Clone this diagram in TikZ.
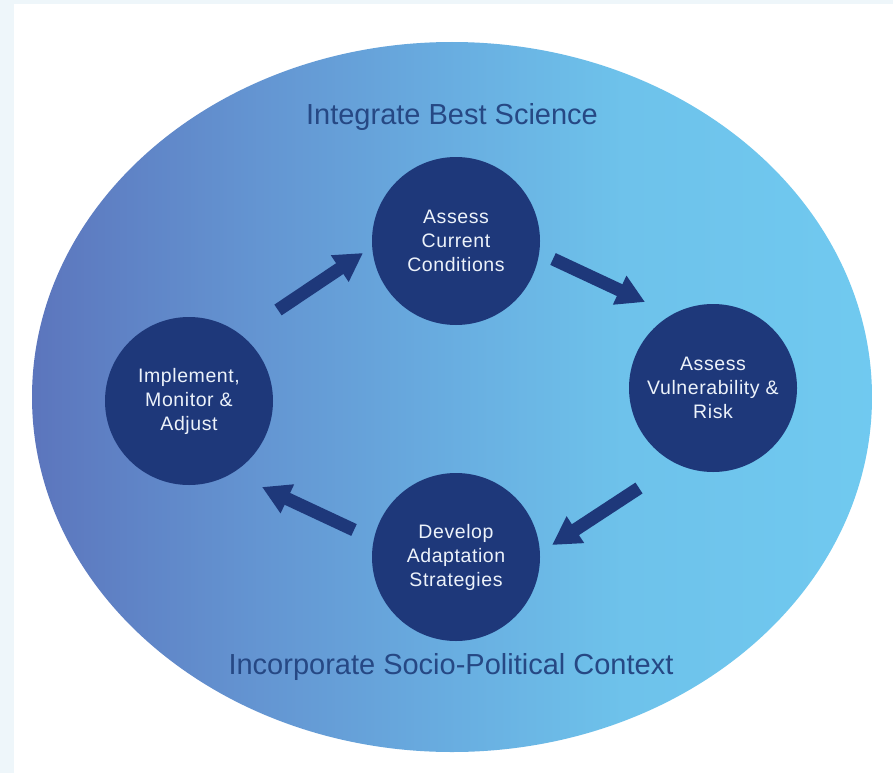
\documentclass[tikz,border=0pt]{standalone}
\usepackage{fontspec}
\setmainfont{Liberation Sans}
\usetikzlibrary{arrows.meta}
\definecolor{navy}{RGB}{30,56,122}
\definecolor{titleblue}{RGB}{38,72,132}
\definecolor{stripbg}{RGB}{238,246,250}
\definecolor{circtext}{RGB}{236,242,250}
\pgfdeclarehorizontalshading{ellshade}{100bp}{rgb(0bp)=(0.36,0.46,0.74); rgb(25bp)=(0.36,0.46,0.74); rgb(38bp)=(0.39,0.58,0.82); rgb(50bp)=(0.41,0.68,0.88); rgb(60bp)=(0.43,0.76,0.92); rgb(75bp)=(0.44,0.79,0.94); rgb(100bp)=(0.44,0.79,0.94)}
\tikzset{
  stepcircle/.style={circle, fill=navy, minimum size=168pt, inner sep=0pt, text=circtext, align=center, font=\fontsize{19.5}{24}\selectfont\addfontfeatures{LetterSpace=3}},
  titletext/.style={text=titleblue, inner sep=0pt, font=\fontsize{29}{32}\selectfont},
  blockarrow/.style={draw=navy, line width=13pt, -{Triangle[length=28pt,width=30pt]}}
}
\begin{document}
\begin{tikzpicture}[x=1pt,y=-1pt]
\useasboundingbox (0,0) rectangle (893,773);
\fill[white] (0,0) rectangle (893,773);
\fill[stripbg] (0,0) rectangle (14,773);
\fill[stripbg] (0,0) rectangle (893,4);
% big ellipse
\path[shading=ellshade] (452,397) ellipse [x radius=420pt, y radius=355pt];
% titles
\node[titletext] (science) at (452,117) {Integrate Best Science};
\node[titletext] (context) at (451,667) {Incorporate Socio-Political Context};
% step circles
\node[stepcircle] (current) at (456,241) {Assess\\Current\\Conditions};
\node[stepcircle] (vuln) at (713,388) {Assess\\Vulnerability \&\\Risk};
\node[stepcircle] (develop) at (456,557) {Develop\\Adaptation\\Strategies};
\node[stepcircle] (implement) at (189,401) {Implement,\\Monitor \&\\Adjust};
% arrow end points
\coordinate (a1s) at (278,310);
\coordinate (a1e) at (363,253);
\coordinate (a2s) at (553,259);
\coordinate (a2e) at (645,302);
\coordinate (a3s) at (639,488);
\coordinate (a3e) at (552,545);
\coordinate (a4s) at (354,530);
\coordinate (a4e) at (262,487);
\draw[blockarrow] (a1s) -- (a1e);
\draw[blockarrow] (a2s) -- (a2e);
\draw[blockarrow] (a3s) -- (a3e);
\draw[blockarrow] (a4s) -- (a4e);
\end{tikzpicture}
\end{document}
